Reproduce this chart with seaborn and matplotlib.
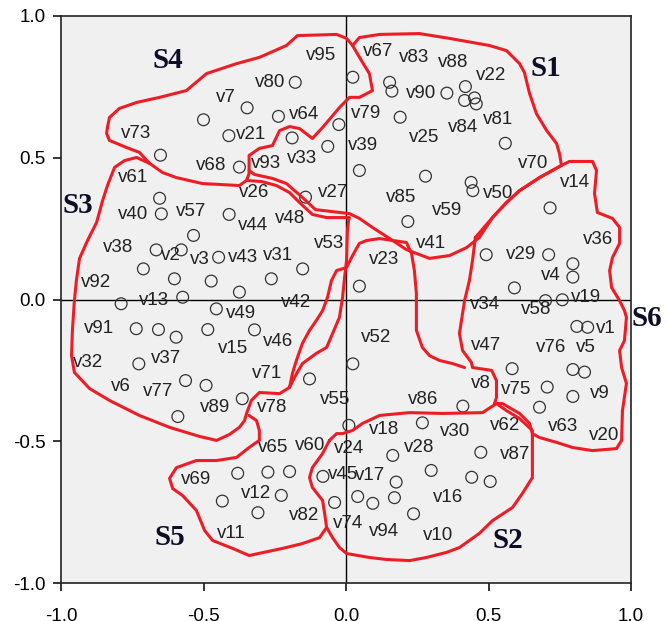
import matplotlib
matplotlib.use("Agg")
import numpy as np
import pandas as pd
import matplotlib.pyplot as plt
import seaborn as sns

# -------------------------------------------------------
# Point coordinates (component loadings)
# -------------------------------------------------------

point_x = [
    # S4
    -0.178, -0.347, -0.500, -0.237, -0.411, -0.189, -0.025, -0.064, -0.651, -0.374,
    # S1
    0.024, 0.153, 0.161, 0.354, 0.419, 0.416, 0.451, 0.457, 0.190, 0.559,
    0.047, 0.279, 0.439, 0.445, 0.217,
    # S6
    0.716, 0.492, 0.711, 0.796, 0.796, 0.591, 0.700, 0.759, 0.810, 0.848,
    0.583, 0.796, 0.837, 0.706, 0.796, 0.679,
    # S3
    -0.654, -0.648, -0.410, -0.535, -0.666, -0.578, -0.447, -0.711, -0.602, -0.473,
    -0.262, -0.152, -0.374, -0.789, -0.573, -0.455, -0.736, -0.658, -0.596, -0.485,
    -0.321, -0.727, -0.563, -0.491, -0.590, -0.364, -0.142,
    # middle
    -0.128, 0.047, 0.024, 0.010, 0.410,
    # S2
    0.268, 0.164, 0.473, 0.299, 0.441, 0.506, 0.176, 0.170, 0.041, 0.094,
    -0.040, 0.237, -0.081,
    # S5
    -0.380, -0.274, -0.198, -0.434, -0.227, -0.309,
]

point_y = [
    # S4
    0.766, 0.676, 0.634, 0.646, 0.578, 0.570, 0.617, 0.540, 0.509, 0.467,
    # S1
    0.784, 0.766, 0.735, 0.728, 0.751, 0.702, 0.711, 0.690, 0.643, 0.551,
    0.455, 0.435, 0.413, 0.384, 0.275,
    # S6
    0.323, 0.158, 0.158, 0.126, 0.079, 0.041, -0.004, -0.001, -0.095, -0.098,
    -0.244, -0.247, -0.256, -0.309, -0.342, -0.380,
    # S3
    0.357, 0.302, 0.300, 0.226, 0.175, 0.175, 0.149, 0.108, 0.073, 0.065,
    0.073, 0.108, 0.026, -0.015, 0.008, -0.033, -0.103, -0.106, -0.133, -0.106,
    -0.107, -0.227, -0.286, -0.303, -0.413, -0.350, 0.361,
    # middle
    -0.280, 0.047, -0.227, -0.444, -0.376,
    # S2
    -0.435, -0.550, -0.539, -0.603, -0.627, -0.642, -0.644, -0.699, -0.695, -0.719,
    -0.716, -0.756, -0.624,
    # S5
    -0.613, -0.609, -0.607, -0.711, -0.691, -0.752,
]

# -------------------------------------------------------
# Variable labels
# -------------------------------------------------------

label_names = [
    "v95", "v80", "v7", "v64", "v73", "v21", "v68", "v93", "v33",
    "v67", "v83", "v88", "v22", "v90", "v79", "v25", "v84", "v81", "v39",
    "v70", "v85", "v50", "v59", "v41",
    "v14", "v36", "v29", "v4", "v19", "v34", "v58", "v1", "v47", "v76",
    "v5", "v75", "v9", "v63", "v20",
    "v61", "v40", "v57", "v26", "v27", "v44", "v48", "v53", "v38", "v2",
    "v3", "v43", "v31", "v92", "v13", "v42", "v49", "v91", "v46", "v15",
    "v32", "v37", "v71", "v6", "v77", "v89", "v78",
    "v23", "v52", "v55", "v8", "v86",
    "v18", "v30", "v62", "v24", "v28", "v87", "v45", "v17", "v16", "v74",
    "v94", "v10",
    "v65", "v60", "v69", "v12", "v82", "v11",
]

label_x = [
    -0.087, -0.266, -0.420, -0.146, -0.736, -0.333, -0.473, -0.280, -0.154,
    0.112, 0.240, 0.375, 0.509, 0.264, 0.071, 0.275, 0.410, 0.533, 0.059,
    0.655, 0.194, 0.533, 0.354, 0.299,
    0.802, 0.884, 0.615, 0.718, 0.843, 0.486, 0.667, 0.913, 0.492, 0.720,
    0.840, 0.597, 0.889, 0.761, 0.907,
    -0.748, -0.746, -0.543, -0.321, -0.046, -0.327, -0.198, -0.060, -0.801, -0.613,
    -0.514, -0.362, -0.239, -0.876, -0.672, -0.175, -0.368, -0.867, -0.239, -0.397,
    -0.906, -0.633, -0.278, -0.789, -0.660, -0.461, -0.259,
    0.135, 0.106, -0.037, 0.472, 0.269,
    0.135, 0.384, 0.558, 0.009, 0.258, 0.592, -0.012, 0.086, 0.357, 0.006,
    0.135, 0.322,
    -0.257, -0.125, -0.526, -0.315, -0.146, -0.403,
]

label_y = [
    0.861, 0.766, 0.711, 0.651, 0.584, 0.582, 0.473, 0.479, 0.496,
    0.876, 0.855, 0.837, 0.790, 0.726, 0.657, 0.572, 0.606, 0.634, 0.543,
    0.481, 0.361, 0.374, 0.313, 0.196,
    0.414, 0.212, 0.158, 0.085, 0.008, -0.018, -0.036, -0.103, -0.162, -0.168,
    -0.168, -0.317, -0.333, -0.448, -0.480,
    0.429, 0.300, 0.311, 0.377, 0.378, 0.261, 0.286, 0.196, 0.182, 0.155,
    0.140, 0.149, 0.155, 0.061, -0.004, -0.012, -0.048, -0.103, -0.147, -0.174,
    -0.221, -0.209, -0.262, -0.307, -0.323, -0.380, -0.380,
    0.141, -0.135, -0.354, -0.297, -0.353,
    -0.460, -0.466, -0.446, -0.524, -0.521, -0.548, -0.617, -0.621, -0.697, -0.791,
    -0.818, -0.832,
    -0.521, -0.515, -0.636, -0.685, -0.762, -0.826,
]

# -------------------------------------------------------
# Group names
# -------------------------------------------------------

group_names = ["S1", "S2", "S3", "S4", "S5", "S6"]
group_x = [0.702, 0.568, -0.941, -0.625, -0.619, 1.054]
group_y = [0.814, -0.850, 0.332, 0.843, -0.838, -0.067]

# -------------------------------------------------------
# Hand drawn outlines (x list, y list)
# -------------------------------------------------------

s4_x = [-0.837, -0.830, -0.795, -0.735, -0.654, -0.560, -0.539, -0.489, -0.384, -0.304,
        -0.209, -0.170, -0.033, 0.002, 0.023, 0.054, 0.082, 0.093, 0.047, 0.012,
        -0.023, -0.082, -0.118, -0.163, -0.198, -0.233, -0.258, -0.304, -0.340, -0.340,
        -0.349, -0.374, -0.504, -0.595, -0.644, -0.689, -0.725, -0.770, -0.830, -0.840,
        -0.837]
s4_y = [0.607, 0.642, 0.674, 0.695, 0.713, 0.737, 0.755, 0.797, 0.832, 0.854,
        0.896, 0.931, 0.935, 0.921, 0.896, 0.843, 0.797, 0.737, 0.713, 0.713,
        0.677, 0.607, 0.568, 0.603, 0.610, 0.596, 0.543, 0.533, 0.508, 0.444,
        0.420, 0.402, 0.409, 0.430, 0.448, 0.480, 0.519, 0.536, 0.561, 0.586,
        0.607]

s1_x = [0.023, 0.047, 0.118, 0.258, 0.363, 0.503, 0.563, 0.609, 0.626, 0.644,
        0.668, 0.704, 0.739, 0.749, 0.756, 0.679, 0.609, 0.563, 0.514, 0.468,
        0.423, 0.363, 0.293, 0.212, 0.153, 0.093, 0.047, 0.012, -0.107, -0.153,
        -0.209, -0.258, -0.321, -0.340]
s1_y = [0.896, 0.924, 0.935, 0.938, 0.921, 0.896, 0.878, 0.832, 0.801, 0.727,
        0.656, 0.596, 0.550, 0.515, 0.473, 0.430, 0.384, 0.342, 0.289, 0.219,
        0.183, 0.155, 0.145, 0.176, 0.215, 0.254, 0.286, 0.303, 0.317, 0.360,
        0.409, 0.427, 0.441, 0.455]

s3_x = [-0.689, -0.735, -0.777, -0.812, -0.837, -0.854, -0.875, -0.907, -0.935, -0.946,
        -0.953, -0.960, -0.963, -0.953, -0.900, -0.830, -0.725, -0.619, -0.514, -0.454,
        -0.409, -0.374, -0.356, -0.349, -0.332, -0.304, -0.233, -0.198, -0.181, -0.153,
        -0.104, -0.068, -0.047, -0.023, -0.012, -0.005, 0.002, 0.005, 0.009, 0.012,
        -0.068, -0.118, -0.163, -0.198, -0.244, -0.296, -0.349]
s3_y = [0.480, 0.501, 0.490, 0.466, 0.402, 0.349, 0.272, 0.208, 0.145, 0.067,
        -0.004, -0.109, -0.198, -0.257, -0.314, -0.356, -0.409, -0.451, -0.483, -0.497,
        -0.476, -0.451, -0.427, -0.402, -0.356, -0.328, -0.332, -0.310, -0.275, -0.226,
        -0.190, -0.169, -0.120, -0.063, 0.007, 0.078, 0.138, 0.243, 0.279, 0.289,
        0.289, 0.300, 0.342, 0.377, 0.402, 0.416, 0.420]

mid_x = [-0.198, -0.188, -0.174, -0.153, -0.128, -0.104, -0.082, -0.065, -0.051, -0.033,
         0.002, 0.023, 0.047, 0.072, 0.118, 0.212, 0.230, 0.240, 0.247, 0.247,
         0.268, 0.293, 0.328, 0.374, 0.416]
mid_y = [-0.310, -0.261, -0.215, -0.155, -0.109, -0.074, -0.039, 0.007, 0.067, 0.102,
         0.113, 0.155, 0.198, 0.208, 0.215, 0.201, 0.162, 0.102, 0.021, -0.109,
         -0.169, -0.198, -0.215, -0.226, -0.240]

s6_x = [0.454, 0.514, 0.563, 0.609, 0.679, 0.756, 0.784, 0.865, 0.879, 0.872,
        0.882, 0.935, 0.960, 0.960, 0.935, 0.925, 0.932, 0.960, 0.977, 0.984,
        0.977, 0.960, 0.967, 0.984, 0.970, 0.967, 0.949, 0.865, 0.795, 0.739,
        0.679, 0.654, 0.644, 0.609, 0.549, 0.521, 0.528, 0.528, 0.511, 0.444,
        0.440, 0.409, 0.398, 0.416, 0.433, 0.444, 0.454]
s6_y = [0.219, 0.289, 0.342, 0.384, 0.430, 0.473, 0.487, 0.487, 0.455, 0.374,
        0.307, 0.286, 0.254, 0.198, 0.148, 0.102, 0.042, -0.004, -0.039, -0.063,
        -0.145, -0.180, -0.240, -0.296, -0.392, -0.497, -0.526, -0.533, -0.522, -0.504,
        -0.487, -0.473, -0.437, -0.402, -0.367, -0.367, -0.346, -0.286, -0.250, -0.240,
        -0.222, -0.180, -0.120, -0.004, 0.067, 0.138, 0.219]

s2_x = [-0.058, -0.033, -0.012, 0.023, 0.058, 0.118, 0.223, 0.339, 0.479, 0.528,
        0.563, 0.609, 0.654, 0.654, 0.654, 0.619, 0.584, 0.514, 0.468, 0.398,
        0.353, 0.282, 0.223, 0.142, 0.082, 0.002, -0.023, -0.047, -0.068, -0.075,
        -0.082, -0.118, -0.128, -0.118, -0.082, -0.058]
s2_y = [-0.497, -0.473, -0.473, -0.462, -0.437, -0.409, -0.399, -0.402, -0.399, -0.367,
        -0.392, -0.420, -0.462, -0.522, -0.628, -0.684, -0.734, -0.780, -0.825, -0.875,
        -0.892, -0.910, -0.921, -0.917, -0.910, -0.896, -0.875, -0.840, -0.804, -0.755,
        -0.709, -0.663, -0.628, -0.593, -0.543, -0.497]

s5_x = [-0.340, -0.314, -0.304, -0.304, -0.340, -0.384, -0.454, -0.525, -0.595, -0.619,
        -0.608, -0.574, -0.525, -0.496, -0.468, -0.398, -0.340, -0.223, -0.153, -0.093,
        -0.068]
s5_y = [-0.409, -0.427, -0.462, -0.497, -0.522, -0.557, -0.568, -0.568, -0.593, -0.631,
        -0.667, -0.691, -0.744, -0.815, -0.850, -0.878, -0.903, -0.878, -0.861, -0.840,
        -0.804]

outlines = [
    (s4_x, s4_y), (s1_x, s1_y), (s3_x, s3_y), (mid_x, mid_y),
    (s6_x, s6_y), (s2_x, s2_y), (s5_x, s5_y),
]

# -------------------------------------------------------
# Plot
# -------------------------------------------------------

plt.rcParams["axes.unicode_minus"] = False
plt.rcParams["font.family"] = ["Liberation Sans", "DejaVu Sans"]

fig = plt.figure(figsize=(6.68, 6.21), dpi=100)
fig.patch.set_facecolor("white")
ax = fig.add_axes([61 / 668, 1 - 583 / 621, 570 / 668, 567 / 621])
ax.set_facecolor("#f0f0f0")

ax.axhline(0, color="black", linewidth=1.0, zorder=1)
ax.axvline(0, color="black", linewidth=1.0, zorder=1)

points = pd.DataFrame({"x": point_x, "y": point_y})

sns.scatterplot(
    data=points,
    x="x",
    y="y",
    ax=ax,
    marker="o",
    s=72,
    linewidth=0.9,
    edgecolor="#333333",
    zorder=3,
    legend=False
)
ax.collections[-1].set_facecolor("none")

for name, lx, ly in zip(label_names, label_x, label_y):
    ax.text(lx, ly, name, ha="center", va="center",
            fontsize=13.5, color="#222222", zorder=3)

for ox, oy in outlines:
    ax.plot(ox, oy, color="#ee1c25", linewidth=2.2, zorder=4,
            solid_joinstyle="round", solid_capstyle="round")

for name, gx, gy in zip(group_names, group_x, group_y):
    ax.text(gx, gy, name, ha="center", va="center", fontsize=21,
            fontweight="bold", family="Liberation Serif", color="#0d0d26",
            zorder=5, clip_on=False)

ax.set_xlim(-1, 1)
ax.set_ylim(-1, 1)
ticks = [-1.0, -0.5, 0.0, 0.5, 1.0]
ax.set_xticks(ticks)
ax.set_yticks(ticks)
ax.set_xticklabels([f"{t:.1f}" for t in ticks])
ax.set_yticklabels([f"{t:.1f}" for t in ticks])
ax.tick_params(axis="both", direction="out", length=6, width=1.1,
               labelsize=13.5, colors="black")
ax.tick_params(axis="x", pad=12)
ax.tick_params(axis="y", pad=5)
ax.set_xlabel("")
ax.set_ylabel("")

for spine in ax.spines.values():
    spine.set_color("#222222")
    spine.set_linewidth(1.2)

plt.savefig("out.png", dpi=100)
plt.close()
